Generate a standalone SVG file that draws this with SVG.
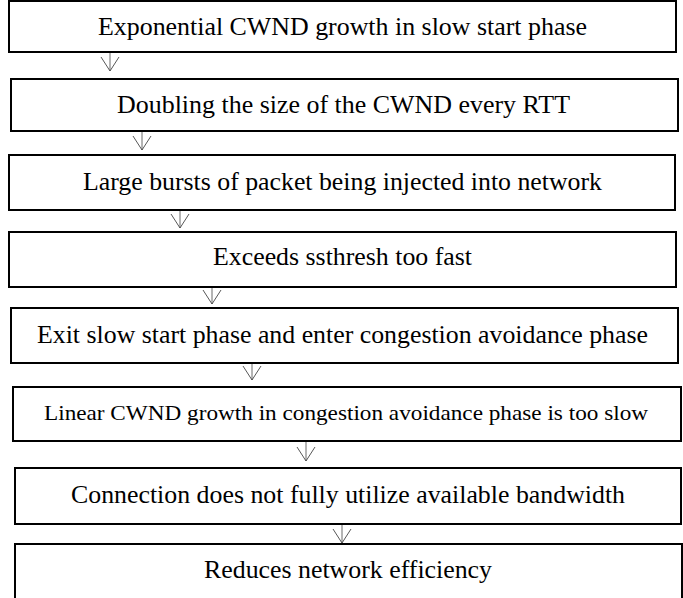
<svg xmlns="http://www.w3.org/2000/svg" width="683" height="598" viewBox="0 0 683 598">
<style>
.box{fill:#fff;stroke:#000;stroke-width:2}
.t{font-family:"Liberation Serif","Times New Roman",serif;font-size:25px;fill:#000;text-anchor:middle}
.s{font-size:22px}
.c{stroke:#444;stroke-width:0.8;fill:none}
</style>
<defs>
<marker id="ah" viewBox="0 0 16 20" refX="15" refY="10" markerWidth="16" markerHeight="20" markerUnits="userSpaceOnUse" orient="auto">
<path d="M1,1 L15,10 L1,19" fill="none" stroke="#444" stroke-width="0.9"/>
</marker>
</defs>
<rect width="683" height="598" fill="#fff"/>
<g id="connectors">
<line class="c" x1="110" y1="53" x2="110" y2="71" marker-end="url(#ah)"/>
<line class="c" x1="142" y1="132" x2="142" y2="150" marker-end="url(#ah)"/>
<line class="c" x1="180" y1="211" x2="180" y2="228" marker-end="url(#ah)"/>
<line class="c" x1="212" y1="288" x2="212" y2="304" marker-end="url(#ah)"/>
<line class="c" x1="252" y1="364" x2="252" y2="380" marker-end="url(#ah)"/>
<line class="c" x1="306" y1="442" x2="306" y2="461" marker-end="url(#ah)"/>
<line class="c" x1="342" y1="525" x2="342" y2="543" marker-end="url(#ah)"/>
</g>
<g id="n1"><rect class="box" x="9" y="1" width="667" height="51"/><text class="t" x="342.5" y="35" textLength="489" lengthAdjust="spacingAndGlyphs">Exponential CWND growth in slow start phase</text></g>
<g id="n2"><rect class="box" x="11" y="79" width="667" height="52"/><text class="t" x="343.5" y="113" textLength="453" lengthAdjust="spacingAndGlyphs">Doubling the size of the CWND every RTT</text></g>
<g id="n3"><rect class="box" x="9" y="155" width="666" height="55"/><text class="t" x="342.5" y="190" textLength="519" lengthAdjust="spacingAndGlyphs">Large bursts of packet being injected into network</text></g>
<g id="n4"><rect class="box" x="9" y="232" width="667" height="55"/><text class="t" x="342.5" y="265" textLength="259" lengthAdjust="spacingAndGlyphs">Exceeds ssthresh too fast</text></g>
<g id="n5"><rect class="box" x="11" y="308" width="667" height="55"/><text class="t" x="342.5" y="343" textLength="611" lengthAdjust="spacingAndGlyphs">Exit slow start phase and enter congestion avoidance phase</text></g>
<g id="n6"><rect class="box" x="13" y="387" width="668" height="54"/><text class="t s" x="346" y="420" textLength="604" lengthAdjust="spacingAndGlyphs">Linear CWND growth in congestion avoidance phase is too slow</text></g>
<g id="n7"><rect class="box" x="15" y="468" width="666" height="56"/><text class="t" x="348" y="503" textLength="554" lengthAdjust="spacingAndGlyphs">Connection does not fully utilize available bandwidth</text></g>
<g id="n8"><rect class="box" x="15" y="544" width="667" height="58"/><text class="t" x="348" y="578" textLength="288" lengthAdjust="spacingAndGlyphs">Reduces network efficiency</text></g>
</svg>
